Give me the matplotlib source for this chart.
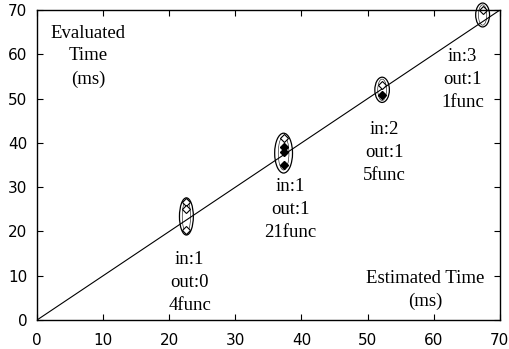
import matplotlib.pyplot as plt
from matplotlib.patches import Ellipse

cluster_x = [22.6, 37.3, 52.2, 67.4]
cluster_y = [23.4, 37.7, 52.0, 68.9]
cluster_h = [8.4, 9.0, 5.7, 5.4]
cluster_w = [2.1, 2.7, 2.2, 2.1]

open_x = [22.6, 22.6, 22.6, 37.3, 52.2, 67.4]
open_y = [26.7, 25.0, 20.3, 41.1, 53.1, 70.0]
filled_x = [37.3, 37.3, 37.3, 52.2]
filled_y = [39.1, 38.0, 35.0, 50.8]

labels = ["in:1\nout:0\n4func", "in:1\nout:1\n21func",
          "in:2\nout:1\n5func", "in:3\nout:1\n1func"]
label_x = [23.1, 38.3, 52.6, 64.4]
label_y = [8.5, 25.0, 37.8, 54.4]

ticks = [0, 10, 20, 30, 40, 50, 60, 70]

fig = plt.figure(figsize=(5.1, 3.49), dpi=100)
ax = fig.add_axes([0.0725, 0.083, 0.9075, 0.888])

# identity line
ax.plot([0, 70], [0, 70], color="black", lw=0.8)

for x, y, w, h in zip(cluster_x, cluster_y, cluster_w, cluster_h):
    ax.add_patch(Ellipse((x, y), w, h, fill=False, ec="black", lw=0.9, clip_on=False))
    ax.add_patch(Ellipse((x, y), w * 0.6, h * 0.85, fill=False, ec="black", lw=0.4, clip_on=False))

ax.plot(open_x, open_y, "D", mfc="white", mec="black", ms=4.5, mew=0.8, clip_on=False)
ax.plot(filled_x, filled_y, "D", mfc="black", mec="black", ms=4.5, clip_on=False)

serif = dict(family="Liberation Serif", fontsize=13.5, ha="center", va="center",
             linespacing=1.45)
for t, x, y in zip(labels, label_x, label_y):
    ax.text(x, y, t, **serif)
ax.text(7.7, 59.6, "Evaluated\nTime\n(ms)", **serif)
ax.text(58.7, 6.8, "Estimated Time\n(ms)", **serif)

ax.set_xlim(0, 70)
ax.set_ylim(0, 70)
ax.set_xticks(ticks)
ax.set_yticks(ticks)
ax.tick_params(direction="in", length=4, width=0.8, top=True, right=True,
               labelsize=11)
ax.tick_params(axis="x", pad=9)
ax.tick_params(axis="y", pad=7)
for s in ax.spines.values():
    s.set_linewidth(1.0)

plt.savefig("out.png", dpi=100)
